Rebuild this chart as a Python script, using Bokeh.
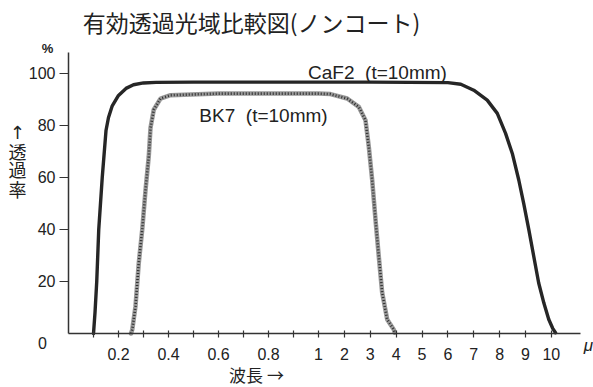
from bokeh.plotting import figure
from bokeh.models import Label, FixedTicker, Range1d
from bokeh.embed import file_html
from bokeh.resources import INLINE

# ---- data (wavelength in micrometres, transmittance in %) ----
caf2_wl = [0.100, 0.106, 0.113, 0.121, 0.135, 0.150, 0.160, 0.175, 0.200, 0.230,
           0.260, 0.300, 0.350, 0.500, 1.0, 3.0, 6.0, 6.5, 7.0, 7.52, 7.91, 8.23,
           8.49, 8.74, 8.93, 9.13, 9.32, 9.51, 9.71, 9.90, 10.05, 10.16]
caf2_t = [0.0, 8.0, 20.0, 40.0, 60.0, 78.0, 83.0, 87.5, 91.5, 94.2,
          95.6, 96.3, 96.5, 96.6, 96.6, 96.6, 96.4, 95.8, 93.5, 89.7, 84.6, 76.9,
          69.2, 59.0, 50.0, 39.8, 29.6, 19.4, 11.7, 5.4, 2.0, 0.3]

bk7_wl = [0.250, 0.255, 0.268, 0.281, 0.295, 0.308, 0.321, 0.328, 0.341, 0.368,
          0.408, 0.600, 1.0, 1.464, 2.109, 2.557, 2.816, 2.944, 3.075, 3.203,
          3.330, 3.462, 3.655, 3.910, 3.950]
bk7_t = [0.0, 1.5, 10.5, 27.0, 40.0, 55.0, 68.0, 79.0, 86.0, 90.3,
         91.6, 92.2, 92.2, 92.0, 90.3, 87.1, 82.0, 71.8, 59.0, 43.7,
         29.6, 15.6, 5.4, 1.5, 0.3]

x_ticks = [0.1, 0.2, 0.3, 0.4, 0.5, 0.6, 0.7, 0.8, 0.9, 1, 2, 3, 4, 5, 6, 7, 8, 9, 10]
x_tick_labels = ["", "0.2", "", "0.4", "", "0.6", "", "0.8", "", "1", "2", "3", "4",
                 "5", "6", "7", "8", "9", "10"]
y_ticks = [20, 40, 60, 80, 100]


def warp(l):
    # axis is linear 0-1 um, then compressed linear 1-10 um
    return l if l <= 1 else 1 + 0.1035 * (l - 1)


p = figure(width=593, height=387, output_backend="svg", toolbar_location=None,
           x_range=Range1d(-0.272, 2.1), y_range=Range1d(-20.75, 127.98),
           min_border=0, min_border_left=0, min_border_right=0,
           min_border_top=0, min_border_bottom=0)
p.outline_line_color = None
p.grid.visible = False
p.background_fill_color = "white"
p.border_fill_color = "white"

# curves
bx = [warp(v) for v in bk7_wl]
p.line(bx, bk7_t, line_color="#9a9a9a", line_width=4.5,
       line_join="round", line_cap="round")
p.line(bx, bk7_t, line_color="#2e2e2e", line_width=2.6,
       line_dash="1 2", line_join="round")
p.line([warp(v) for v in caf2_wl], caf2_t, line_color="#262626", line_width=3.4,
       line_join="round", line_cap="round")

FONT = "Liberation Sans"
JP = "Noto Sans CJK JP"
INK = "#222222"

xa = p.xaxis[0]
xa.fixed_location = 0
xa.bounds = (0, 2.048)
xa.ticker = FixedTicker(ticks=[warp(t) for t in x_ticks])
xa.major_label_overrides = {warp(t): s for t, s in zip(x_ticks, x_tick_labels)}
xa.major_tick_in = 3
xa.major_tick_out = 4
xa.minor_tick_line_color = None
xa.major_label_standoff = 10
xa.major_label_text_font = FONT
xa.major_label_text_font_size = "16px"
xa.major_label_text_color = INK
xa.axis_line_color = "#333333"
xa.axis_line_width = 1.5
xa.major_tick_line_color = "#333333"
xa.major_tick_line_width = 1.2

ya = p.yaxis[0]
ya.fixed_location = 0
ya.bounds = (0, 108)
ya.ticker = FixedTicker(ticks=y_ticks)
ya.major_tick_in = 0
ya.major_tick_out = 9
ya.minor_tick_line_color = None
ya.major_label_standoff = 4
ya.major_label_text_font = FONT
ya.major_label_text_font_size = "16px"
ya.major_label_text_color = INK
ya.axis_line_color = "#333333"
ya.axis_line_width = 1.5
ya.major_tick_line_color = "#333333"
ya.major_tick_line_width = 1.2


def lab(text, x, y, size, font=FONT, align="center", baseline="middle", style="normal"):
    p.add_layout(Label(x=x, y=y, text=text, text_font=font, text_font_size=size,
                       text_align=align, text_baseline=baseline, text_color=INK,
                       text_font_style=style))


lab("有効透過光域比較図(ノンコート)", 0.732, 119.9, "23px", font=JP)
lab("%", -0.084, 109.5, "13px", style="bold")
lab("↑", -0.204, 77.2, "18px", font="DejaVu Sans")
for ch, yy in zip(["透", "過", "率"], [70.3, 63.2, 55.6]):
    lab(ch, -0.204, yy, "18px", font=JP)
lab("0", -0.104, -3.5, "16px")
lab("波長 →", 0.752, -15.9, "17px", font=JP)
lab("μ", 2.08, -4.6, "17px", style="italic")
lab("CaF2\u00a0\u00a0(t=10mm)", 1.236, 100.3, "19px")
lab("BK7\u00a0\u00a0(t=10mm)", 0.78, 83.8, "19px")

open("out.html", "w").write(file_html(p, INLINE))
